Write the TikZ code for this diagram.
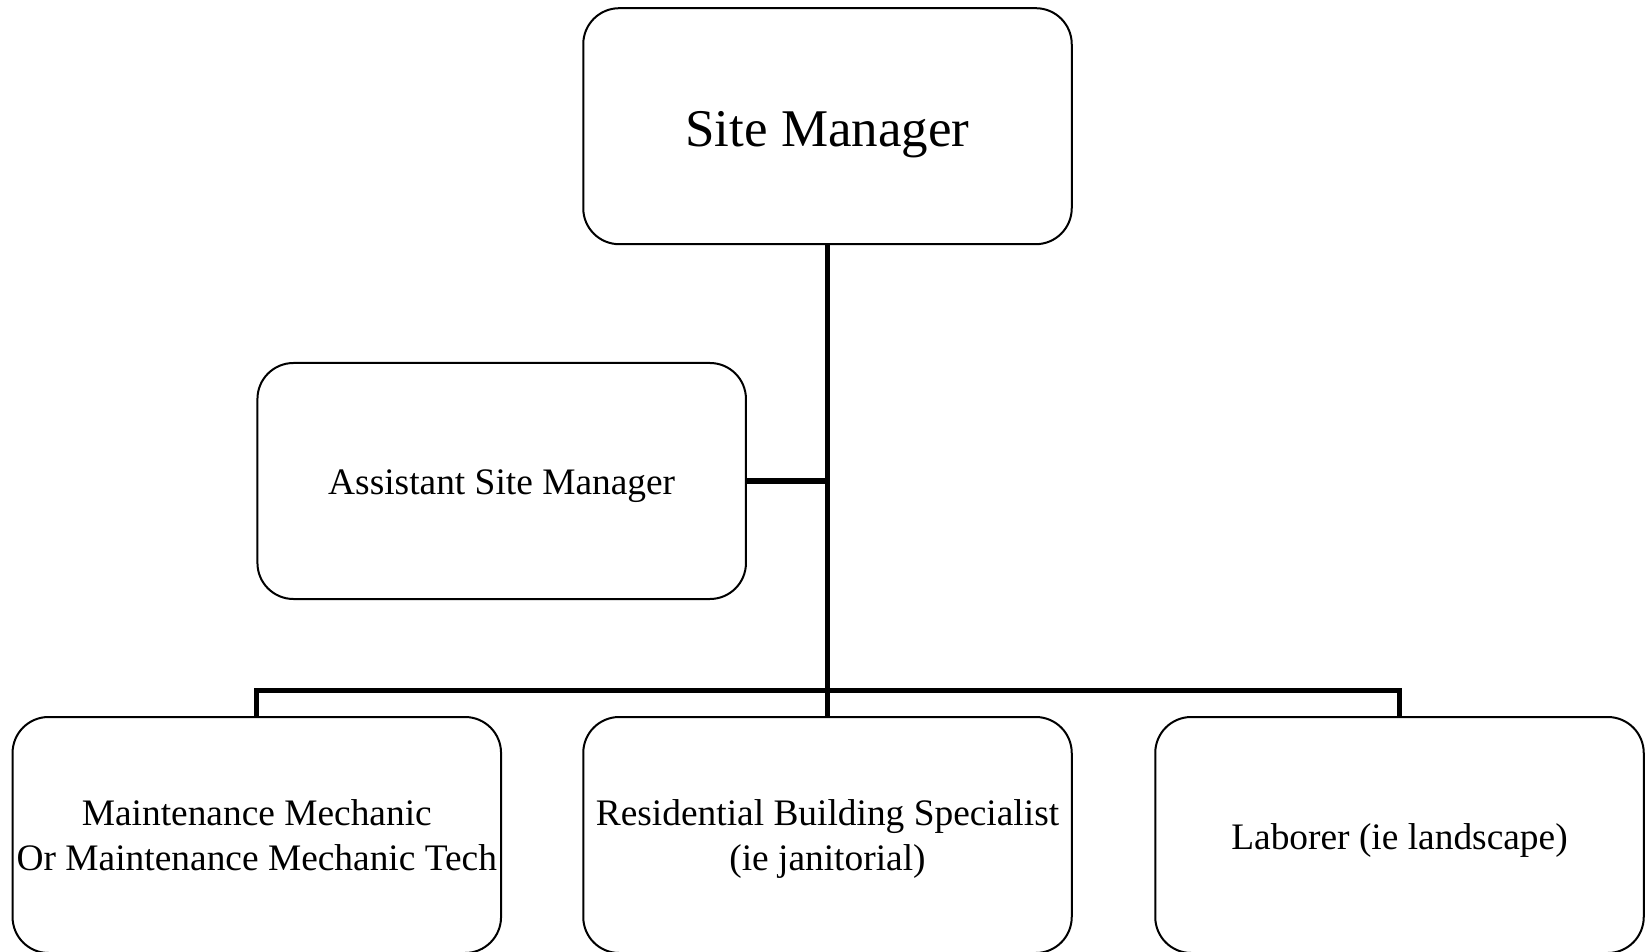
\documentclass[tikz,border=0pt]{standalone}
\usepackage{fontspec}
\setmainfont{Liberation Serif}
\begin{document}
\begin{tikzpicture}[x=0.5pt,y=-0.5pt,
  box/.style={draw=black, line width=1pt, rounded corners=18pt, fill=white,
    minimum width=244.25pt, minimum height=118pt, inner sep=0pt},
  txt/.style={inner sep=0pt, align=center, font=\fontsize{18.7}{22.65}\selectfont},
  conn/.style={draw=black, line width=2.6pt}]
\useasboundingbox (0,0) rectangle (1651,952);
\fill[white] (0,0) rectangle (1651,952);
\node[box, label={[txt, font=\fontsize{26.5}{31}\selectfont, yshift=-4.2pt]center:Site Manager}] (sm) at (827.5,126.2) {};
\node[box, label={[txt, yshift=-2.6pt]center:Assistant Site Manager}] (asst) at (501.7,481) {};
\node[box, label={[txt]center:{Maintenance Mechanic\\Or Maintenance Mechanic Tech}}] (b1) at (256.8,835) {};
\node[box, label={[txt, yshift=-2.1pt]center:{Residential Building Specialist\\(ie janitorial)}}] (b2) at (827.5,835) {};
\node[box, label={[txt, yshift=-2.6pt]center:Laborer (ie landscape)}] (b3) at (1399.5,835) {};
\coordinate (bus) at (827.5,690.7);
\draw[conn] (sm.south) -- (b2.north);
\draw[conn] (asst.east) -- (asst.east -| sm.south);
\draw[conn] (b1.north) |- (bus) -| (b3.north);
\end{tikzpicture}
\end{document}
